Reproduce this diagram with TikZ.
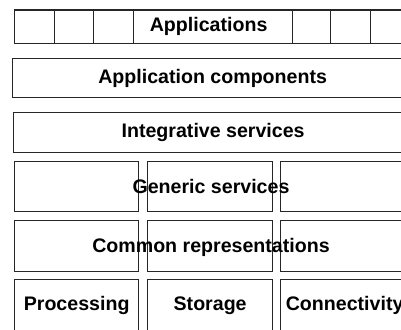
\documentclass[tikz,border=0pt]{standalone}
\usepackage{fontspec}
\setmainfont{Liberation Sans}
\begin{document}
\begin{tikzpicture}[x=1pt,y=-1pt,
  cell/.style={draw=black!85, line width=1.3pt, inner sep=0pt, anchor=north west},
  lbl/.style={font=\bfseries\fontsize{19.6}{22}\selectfont, inner sep=0pt}]
\useasboundingbox (0,0) rectangle (401,329);
\clip (0,0) rectangle (401,329);

% Top layer: applications strip split into cells
\node[cell, minimum width=40pt, minimum height=33.5pt] (a1) at (14,9.5) {};
\node[cell, minimum width=39pt, minimum height=33.5pt] (a2) at (54,9.5) {};
\node[cell, minimum width=40pt, minimum height=33.5pt] (a3) at (93,9.5) {};
\node[cell, minimum width=159pt, minimum height=33.5pt] (app) at (133,9.5) {};
\node[lbl] (apptext) at ([xshift=-4.5pt]app.center) {Applications};
\node[cell, minimum width=38pt, minimum height=33.5pt] (a5) at (292,9.5) {};
\node[cell, minimum width=40pt, minimum height=33.5pt] (a6) at (330,9.5) {};
\node[cell, minimum width=42pt, minimum height=33.5pt] (a7) at (370,9.5) {};

% Full-width layers
\node[cell, minimum width=400pt, minimum height=39pt] (comp) at (12,58) {};
\node[lbl] at (comp.center) {Application components};
\node[cell, minimum width=399pt, minimum height=40pt] (integ) at (13,112) {};
\node[lbl] at (integ.center) {Integrative services};

% Generic services row
\node[cell, minimum width=124pt, minimum height=50pt] (g1) at (14,161) {};
\node[cell, minimum width=125pt, minimum height=50pt] (g2) at (147,161) {};
\node[cell, minimum width=128pt, minimum height=50pt] (g3) at (280,161) {};
\node[lbl] at (211,186) {Generic services};

% Common representations row
\node[cell, minimum width=124pt, minimum height=51pt] (c1) at (14,220) {};
\node[cell, minimum width=125pt, minimum height=51pt] (c2) at (147,220) {};
\node[cell, minimum width=128pt, minimum height=51pt] (c3) at (280,220) {};
\node[lbl] at (211,247) {Common representations};

% Infrastructure row
\node[cell, minimum width=124pt, minimum height=52pt] (proc) at (14,279) {};
\node[lbl] at (proc.center) {Processing};
\node[cell, minimum width=125pt, minimum height=52pt] (stor) at (147,279) {};
\node[lbl] at (stor.center) {Storage};
\node[cell, minimum width=128pt, minimum height=52pt] (conn) at (280,279) {};
\node[lbl] at (conn.center) {Connectivity};
\end{tikzpicture}
\end{document}
